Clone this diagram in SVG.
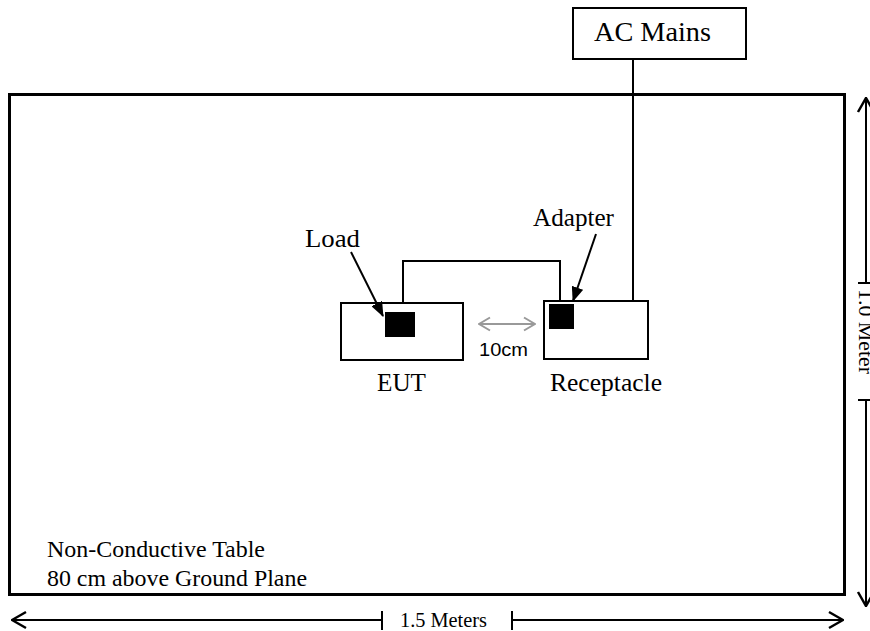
<svg xmlns="http://www.w3.org/2000/svg" width="870" height="631" viewBox="0 0 870 631">
<defs>
<style>
.t{font-family:"Liberation Serif","Times New Roman",Times,serif;fill:#000}
.s{font-family:"Liberation Sans",Arial,sans-serif;fill:#000}
.box{fill:#fff;stroke:#000;stroke-width:2}
.ln{fill:none;stroke:#000;stroke-width:2}
.dim{fill:none;stroke:#000;stroke-width:2}
</style>
<marker id="ah" viewBox="0 0 15 12" refX="14" refY="6" markerWidth="15" markerHeight="12" markerUnits="userSpaceOnUse" orient="auto">
<path d="M0,0 L15,6 L0,12 z" fill="#000"/>
</marker>
<marker id="dim" viewBox="-2 -10 17 20" refX="14" refY="0" markerWidth="17" markerHeight="20" markerUnits="userSpaceOnUse" orient="auto-start-reverse">
<path d="M0,-8 L14,0 L0,8" fill="none" stroke="#000" stroke-width="2.5"/>
</marker>
<marker id="gah" viewBox="-1 -8 13 16" refX="11" refY="0" markerWidth="13" markerHeight="16" markerUnits="userSpaceOnUse" orient="auto-start-reverse">
<path d="M0,-6.5 L11,0 L0,6.5" fill="none" stroke="#999" stroke-width="2"/>
</marker>
</defs>
<rect width="870" height="631" fill="#fff"/>

<g id="table">
<rect x="9.5" y="94.5" width="835" height="500" fill="none" stroke="#000" stroke-width="3"/>
<text class="t" x="47" y="557" font-size="24" textLength="218" lengthAdjust="spacingAndGlyphs">Non-Conductive Table</text>
<text class="t" x="47" y="586" font-size="24" textLength="260" lengthAdjust="spacingAndGlyphs">80 cm above Ground Plane</text>
</g>

<g id="ac-mains">
<rect class="box" x="573" y="8" width="173" height="51"/>
<text class="t" x="594" y="41" font-size="27" textLength="117" lengthAdjust="spacingAndGlyphs">AC Mains</text>
</g>

<g id="eut">
<rect class="box" x="341" y="303" width="122" height="57"/>
<text class="t" x="377" y="391" font-size="25" textLength="49" lengthAdjust="spacingAndGlyphs">EUT</text>
</g>

<g id="load">
<rect x="385" y="312" width="30" height="25" fill="#000"/>
<text class="t" x="305" y="247" font-size="25" textLength="55" lengthAdjust="spacingAndGlyphs">Load</text>
</g>

<g id="receptacle">
<rect class="box" x="544" y="301" width="104" height="58"/>
<text class="t" x="550" y="391" font-size="25" textLength="112" lengthAdjust="spacingAndGlyphs">Receptacle</text>
</g>

<g id="adapter">
<rect x="549" y="304" width="25" height="25" fill="#000"/>
<text class="t" x="533" y="226" font-size="25" textLength="81" lengthAdjust="spacingAndGlyphs">Adapter</text>
</g>

<g id="gap-label">
<text class="s" x="479" y="356" font-size="19" textLength="49" lengthAdjust="spacingAndGlyphs">10cm</text>
</g>

<g id="width-label">
<text class="t" x="400" y="627" font-size="20" textLength="87" lengthAdjust="spacingAndGlyphs">1.5 Meters</text>
</g>

<g id="height-label">
<text class="t" font-size="20" textLength="85" lengthAdjust="spacingAndGlyphs" transform="translate(859,289) rotate(90)">1.0 Meter</text>
</g>

<g id="connectors">
<path class="ln" d="M633,59 V301"/>
<path class="ln" d="M403,303 V261 H560 V301"/>
<path class="ln" d="M351,252 L383,316" marker-end="url(#ah)"/>
<path class="ln" d="M596,234 L573,301" marker-end="url(#ah)"/>
<path d="M479,324 H535" fill="none" stroke="#999" stroke-width="2" marker-start="url(#gah)" marker-end="url(#gah)"/>
<path class="dim" d="M382,620 H12" marker-end="url(#dim)"/>
<path class="dim" d="M512,620 H843" marker-end="url(#dim)"/>
<path class="dim" d="M382,611 V630 M512,611 V630"/>
<path class="dim" d="M866,283 V98" marker-end="url(#dim)"/>
<path class="dim" d="M866,400 V606" marker-end="url(#dim)"/>
<path class="dim" d="M858,283 H870 M858,400 H870"/>
</g>
</svg>
